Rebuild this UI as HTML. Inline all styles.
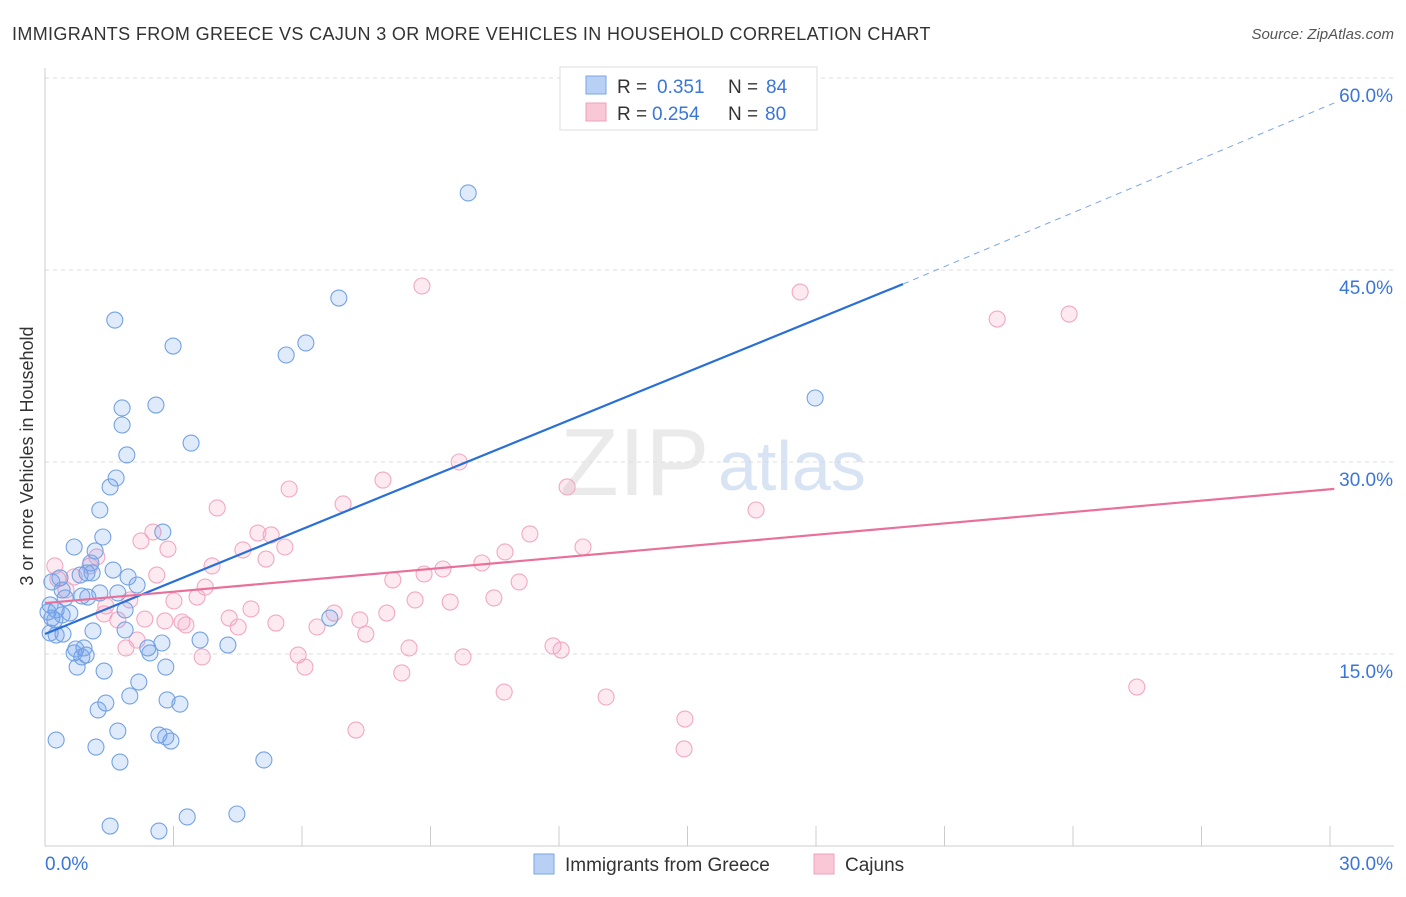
<!DOCTYPE html>
<html><head><meta charset="utf-8"><style>
body{margin:0;background:#fff;font-family:"Liberation Sans",sans-serif;}
svg text{font-family:"Liberation Sans",sans-serif;}
</style></head><body>
<svg id="chart" width="1406" height="892" xmlns="http://www.w3.org/2000/svg">
<text x="12" y="40" font-size="18" letter-spacing="0.35" fill="#333">IMMIGRANTS FROM GREECE VS CAJUN 3 OR MORE VEHICLES IN HOUSEHOLD CORRELATION CHART</text>
<text x="1394" y="39" font-size="15" fill="#555" text-anchor="end" font-style="italic">Source: ZipAtlas.com</text>
<text x="0" y="0" font-size="18" fill="#333" text-anchor="middle" transform="translate(33,456) rotate(-90)">3 or more Vehicles in Household</text>
<g id="grid"></g>
<g id="axes"></g>
<text x="560" y="495" font-size="96" fill="#ddd" font-family="Liberation Serif" opacity="0.6">ZIP</text>
<text x="718" y="490" font-size="70" fill="#c8d8f0" opacity="0.7">atlas</text>
<g id="pts"></g>
<g id="lines"></g>
<g>
<rect x="560" y="67" width="257" height="63" fill="#fff" stroke="#ddd"/>
<rect x="586" y="76" width="20" height="18" fill="#b9d0f5" stroke="#7aa5e6"/>
<rect x="586" y="103" width="20" height="18" fill="#f9c8d7" stroke="#f0a0bb"/>
<text x="617" y="93" font-size="19" fill="#333">R = <tspan x="657" fill="#3a75d8">0.351</tspan><tspan x="728">N = </tspan><tspan x="766" fill="#3a75d8">84</tspan></text>
<text x="617" y="120" font-size="19" fill="#333">R = <tspan x="652" fill="#3a75d8">0.254</tspan><tspan x="728">N = </tspan><tspan x="765" fill="#3a75d8">80</tspan></text>
</g>
<g>
<rect x="534" y="854" width="20" height="20" fill="#b9d0f5" stroke="#7aa5e6"/>
<text x="565" y="871" font-size="19" fill="#333">Immigrants from Greece</text>
<rect x="814" y="854" width="20" height="20" fill="#f9c8d7" stroke="#f0a0bb"/>
<text x="845" y="871" font-size="19" fill="#333">Cajuns</text>
</g>
</svg>
<script>
const yTicks=[15,30,45,60];
const yTickLabels=["15.0%","30.0%","45.0%","60.0%"];
const xTickLabels=["0.0%","30.0%"];
const bluePx=[[468,193],[339,298],[115,320],[173,346],[306,343],[286,355],[815,398],[156,405],[122,408],[122,425],[191,443],[127,455],[116,478],[110,487],[100,510],[163,532],[103,537],[74,547],[95,551],[91,563],[113,570],[87,573],[80,575],[92,573],[128,577],[137,585],[60,578],[52,582],[62,590],[100,593],[118,593],[82,596],[88,597],[65,598],[50,605],[56,610],[48,612],[70,613],[62,615],[52,618],[125,610],[55,620],[330,618],[125,630],[93,631],[63,634],[56,635],[50,633],[200,640],[228,645],[162,643],[148,648],[150,653],[84,648],[76,649],[74,653],[86,655],[82,657],[77,667],[104,671],[166,667],[139,682],[130,696],[106,703],[98,710],[167,700],[180,704],[118,731],[56,740],[166,737],[159,735],[171,741],[96,747],[120,762],[264,760],[110,826],[159,831],[187,817],[237,814]];
const pinkPx=[[422,286],[800,292],[1069,314],[997,319],[459,462],[383,480],[567,487],[289,489],[343,504],[217,508],[756,510],[153,532],[271,535],[258,533],[530,534],[141,541],[168,549],[285,547],[583,547],[243,550],[97,557],[266,559],[505,552],[55,566],[212,566],[90,566],[482,563],[443,569],[424,574],[58,579],[157,575],[74,577],[393,580],[519,582],[205,587],[66,590],[197,597],[174,601],[494,598],[415,600],[450,602],[106,606],[130,600],[251,609],[387,613],[334,613],[104,614],[229,618],[145,619],[276,623],[182,622],[118,620],[360,620],[186,625],[317,627],[238,627],[165,621],[366,634],[137,640],[126,648],[409,648],[553,646],[561,650],[298,655],[202,657],[463,657],[305,667],[402,673],[504,692],[606,697],[1137,687],[685,719],[356,730],[684,749]];
const blueX=bluePx.map(p=>+((p[0]-45)/42.833).toFixed(2));
const blueY=bluePx.map(p=>+((846-p[1])/12.8).toFixed(2));
const pinkX=pinkPx.map(p=>+((p[0]-45)/42.833).toFixed(2));
const pinkY=pinkPx.map(p=>+((846-p[1])/12.8).toFixed(2));
const blueTrend=[[0,16.56],[20.03,43.9],[30.1,58.05]];
const pinkTrend=[[0,18.98],[30.1,27.9]];
const X=v=>45+v*42.833, Y=v=>846-v*12.8;
const NS="http://www.w3.org/2000/svg";
function mk(t,a,p){const e=document.createElementNS(NS,t);for(const k in a)e.setAttribute(k,a[k]);p.appendChild(e);return e;}
const grid=document.getElementById('grid'),axes=document.getElementById('axes'),pts=document.getElementById('pts'),lines=document.getElementById('lines');
yTicks.forEach((v,i)=>{
 const l=mk('line',{x1:45,x2:1394,y1:Y(v),y2:Y(v),stroke:'#ddd','stroke-dasharray':'4,4'},grid);
 
 
 const t=mk('text',{x:1393,y:Y(v)+24,'font-size':19,fill:'#3a75d8','text-anchor':'end'},axes);
 t.textContent=yTickLabels[i];
 
 
});
mk('line',{x1:45,x2:45,y1:68,y2:846,stroke:'#ccc'},axes);
mk('line',{x1:45,x2:1394,y1:846,y2:846,stroke:'#ccc'},axes);
for(let i=0;i<=10;i++){const l=mk('line',{x1:X(i*3),x2:X(i*3),y1:826,y2:846,stroke:'#ccc'},axes);
 
 }
const t0=mk('text',{x:45,y:870,'font-size':19,fill:'#3a75d8'},axes);t0.textContent=xTickLabels[0];


const t1=mk('text',{x:1393,y:870,'font-size':19,fill:'#3a75d8','text-anchor':'end'},axes);t1.textContent=xTickLabels[1];


pinkX.forEach((x,i)=>{const c=mk('circle',{cx:X(x),cy:Y(pinkY[i]),r:8,fill:'rgba(244,160,190,0.22)',stroke:'#f2a8c0','stroke-width':1.1},pts);
 
 });
blueX.forEach((x,i)=>{const c=mk('circle',{cx:X(x),cy:Y(blueY[i]),r:8,fill:'rgba(110,160,235,0.22)',stroke:'#74a2e3','stroke-width':1.1},pts);
 
 });
let b=mk('line',{x1:X(blueTrend[0][0]),y1:Y(blueTrend[0][1]),x2:X(blueTrend[1][0]),y2:Y(blueTrend[1][1]),stroke:'#2a6fd6','stroke-width':2.2},lines);


b=mk('line',{x1:X(blueTrend[1][0]),y1:Y(blueTrend[1][1]),x2:X(blueTrend[2][0]),y2:Y(blueTrend[2][1]),stroke:'#7aa5e6','stroke-width':1,'stroke-dasharray':'6,5'},lines);


b=mk('line',{x1:X(pinkTrend[0][0]),y1:Y(pinkTrend[0][1]),x2:X(pinkTrend[1][0]),y2:Y(pinkTrend[1][1]),stroke:'#e8709a','stroke-width':2.2},lines);


</script>
</body></html>
